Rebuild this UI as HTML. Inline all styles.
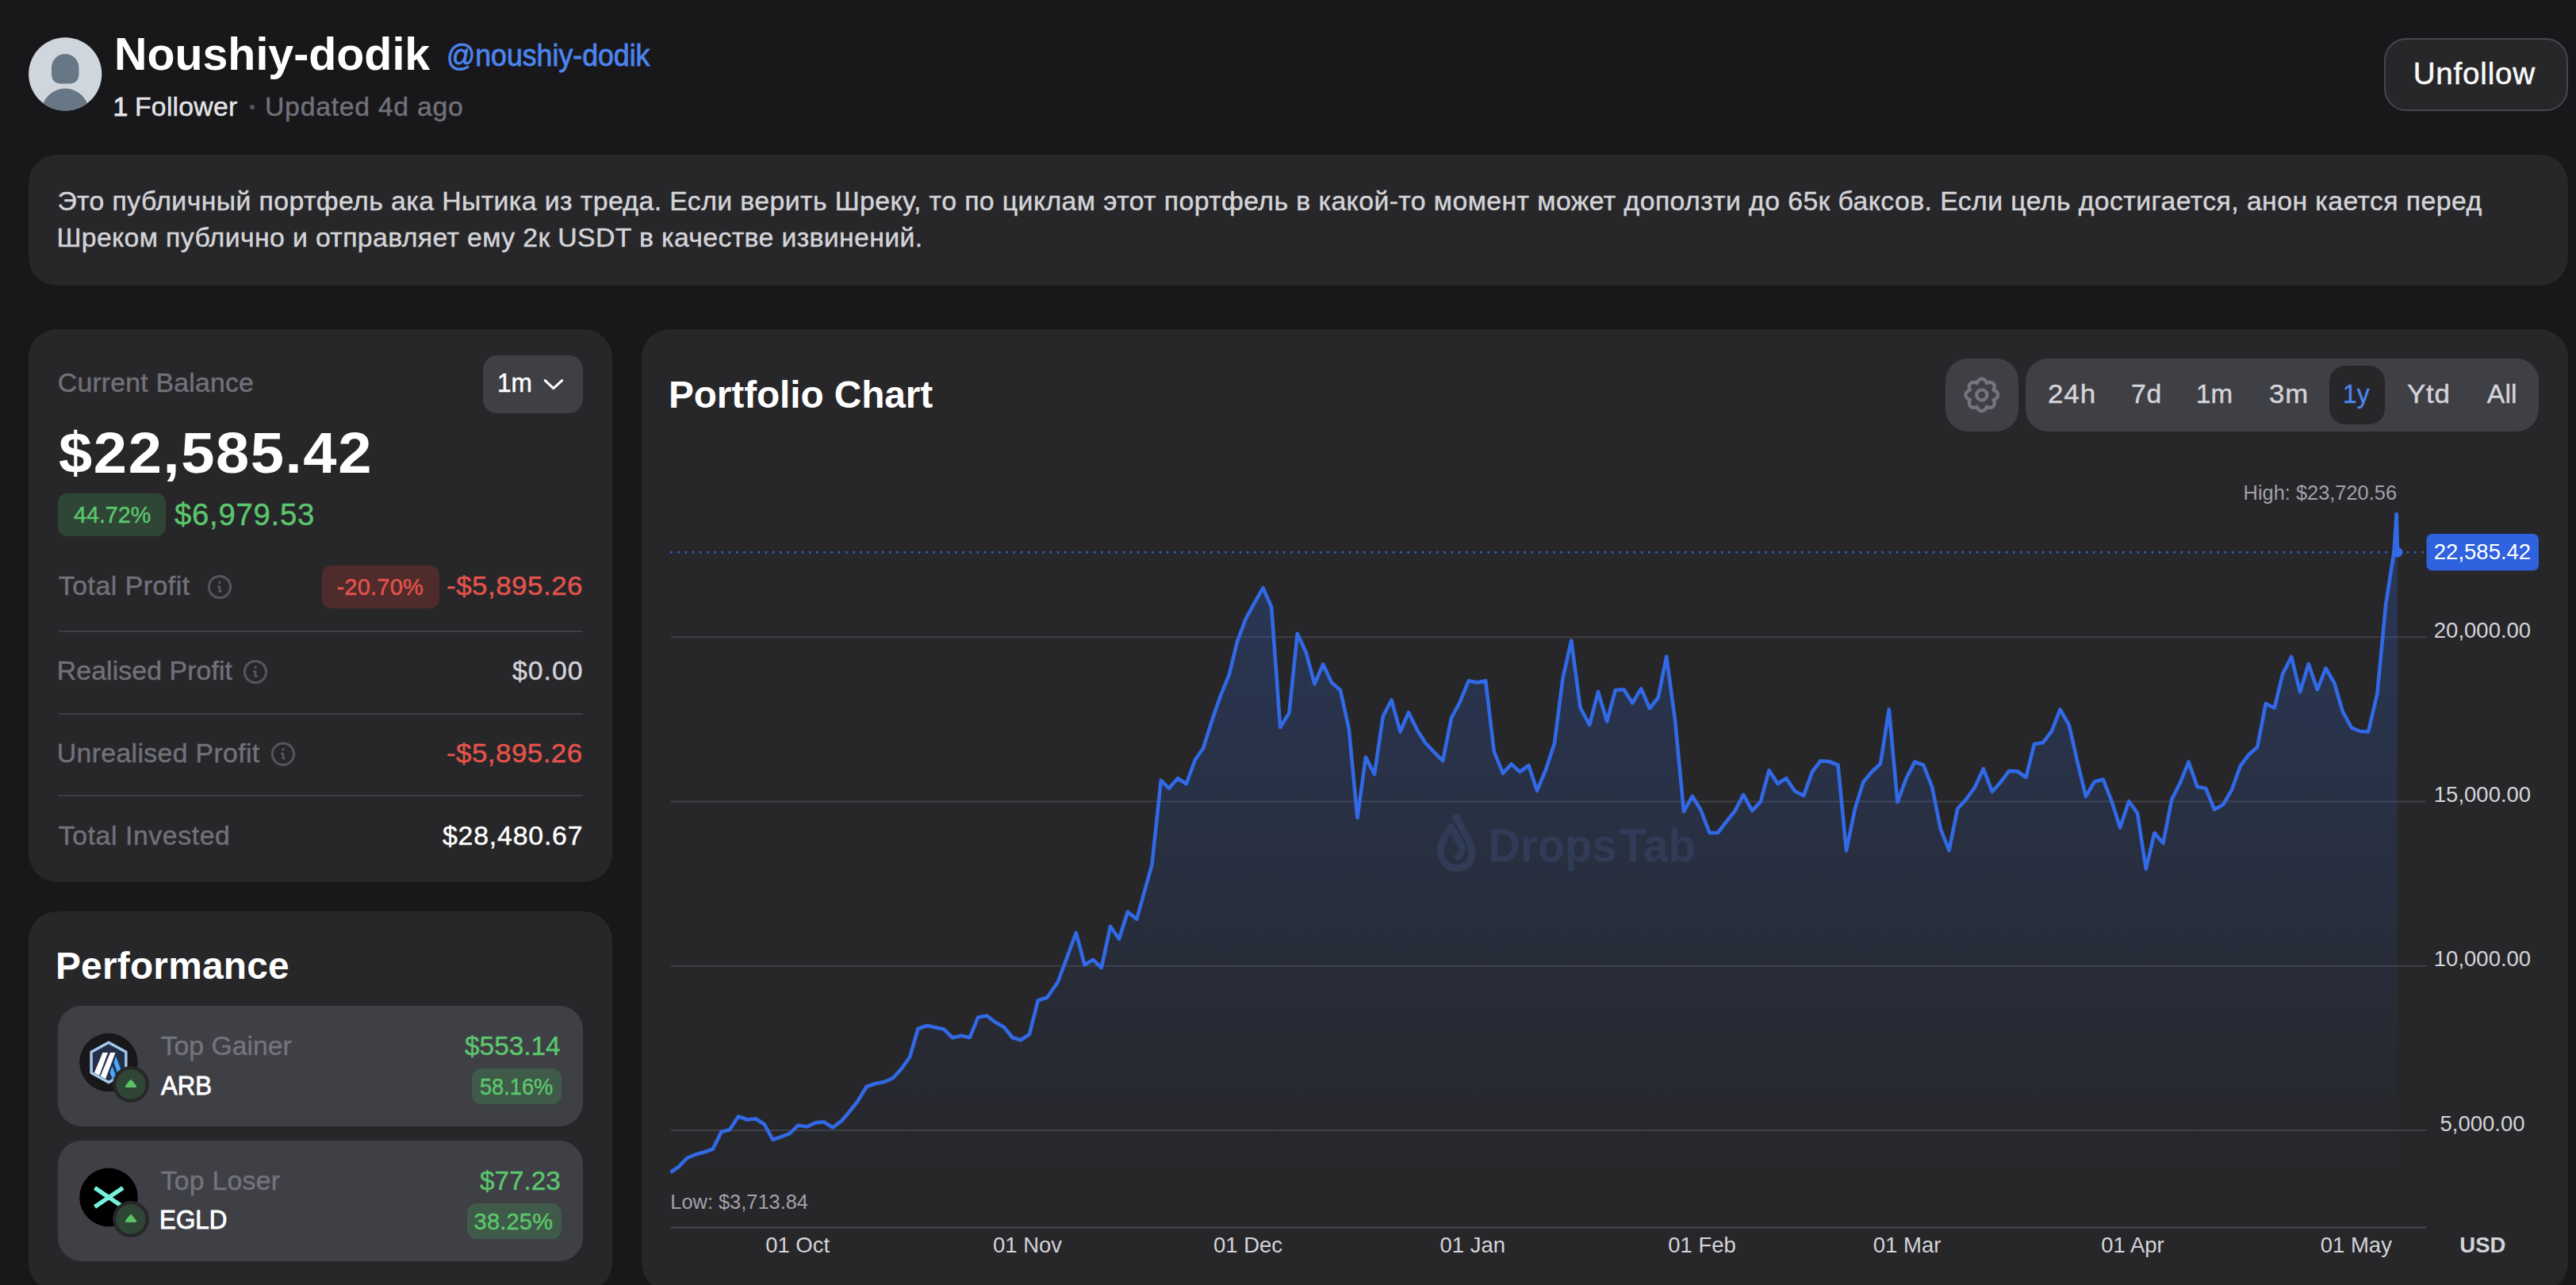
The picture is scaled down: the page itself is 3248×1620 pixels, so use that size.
<!DOCTYPE html>
<html lang="en"><head><meta charset="utf-8"><title>Noushiy-dodik portfolio</title>
<style>
*{box-sizing:border-box;margin:0;padding:0}
html,body{width:3248px;height:1620px;background:#18181b;overflow:hidden}
body{font-family:"Liberation Sans", Arial, sans-serif;}
#app{position:relative;width:3248px;height:1620px;overflow:hidden;background:#18181b}
.abs{position:absolute}
.t{position:absolute;white-space:nowrap;line-height:1;font-weight:400;font-style:normal;display:block;transform-origin:0 50%}
.card{position:absolute;background:#27272a;border-radius:36px}
.inner{position:absolute;background:#3f3f46}
.hr{position:absolute;left:73.5px;width:661.5px;height:2px;background:#3d3d44}
.badge{position:absolute;border-radius:12px}
</style></head>
<body><div id="app">
<header>
<svg class="abs" width="93" height="93" viewBox="0 0 93 93" style="left:36px;top:47.2px"><defs><clipPath id="av"><circle cx="46.2" cy="46.4" r="46.1"/></clipPath></defs>
<circle cx="46.2" cy="46.4" r="46.1" fill="#d0d6dd"/><g clip-path="url(#av)" fill="#687786"><path d="M29,38.1 A17.2,17.2 0 0 1 63.4,38.1 L63.4,46.5 C63.4,54.5 58.5,58.4 51.5,58.4 L40.9,58.4 C33.9,58.4 29,54.5 29,46.5 Z"/><circle cx="46.2" cy="94.6" r="30"/></g></svg>
<h1 class="t" style="left:144.03px;top:38.70px;font-size:58px;color:#ffffff;transform:scaleX(0.9887);font-weight:700;">Noushiy-dodik</h1>
<span class="t" style="left:562.62px;top:51.30px;font-size:38px;color:#4c84ee;transform:scaleX(0.9392);-webkit-text-stroke:0.8px #4c84ee;">@noushiy-dodik</span>
<span class="t" style="left:142.50px;top:117.90px;font-size:33.8px;color:#e4e4e7;-webkit-text-stroke:0.9px #e4e4e7;">1</span>
<span class="t" style="left:170.00px;top:117.90px;font-size:33.8px;color:#e4e4e7;letter-spacing:0.220px;-webkit-text-stroke:0.45px #e4e4e7;">Follower</span>
<i class="abs" style="left:314.6px;top:131.6px;width:6.4px;height:6.4px;border-radius:50%;background:#55555e"></i>
<span class="t" style="left:334.00px;top:117.90px;font-size:33.8px;color:#71717a;letter-spacing:0.712px;-webkit-text-stroke:0.45px #71717a;">Updated 4d ago</span>
<button class="abs" style="left:3006px;top:48px;width:232px;height:92px;border-radius:28px;background:#27272a;border:2.3px solid #46464f;font:inherit;padding:0;text-align:left"><span class="t" style="left:34.70px;top:24.20px;font-size:38.6px;color:#fafafa;letter-spacing:0.788px;-webkit-text-stroke:0.5px #fafafa;">Unfollow</span></button>
</header>
<section>
<div class="card" style="left:36px;top:195px;width:3202px;height:165px"></div>
<p><span class="t" style="left:72.40px;top:237.00px;font-size:33.8px;color:#d4d4d8;letter-spacing:0.408px;-webkit-text-stroke:0.45px #d4d4d8;">Это публичный портфель ака Нытика из треда. Если верить Шреку, то по циклам этот портфель в какой-то момент может доползти до 65к баксов. Если цель достигается, анон кается перед</span>
<span class="t" style="left:71.40px;top:283.10px;font-size:33.8px;color:#d4d4d8;letter-spacing:0.366px;-webkit-text-stroke:0.45px #d4d4d8;">Шреком публично и отправляет ему 2к USDT в качестве извинений.</span></p>
</section>
<aside>
<div class="card" style="left:36px;top:415px;width:736px;height:696.5px"></div>
<div class="inner" style="left:609px;top:448px;width:126px;height:73px;border-radius:18px"></div>
<div class="badge" style="left:73px;top:622px;width:135.6px;height:53.7px;background:#2f4636"></div>
<div class="badge" style="left:406px;top:713px;width:148px;height:54px;background:#4f2b2b"></div>
<div class="hr" style="top:794.6px"></div><div class="hr" style="top:898.5px"></div><div class="hr" style="top:1001.9px"></div>
<span class="t" style="left:72.80px;top:466.40px;font-size:33.8px;color:#71717a;letter-spacing:0.198px;-webkit-text-stroke:0.45px #71717a;">Current Balance</span>
<span class="t" style="left:626.53px;top:466.40px;font-size:33.8px;color:#ffffff;transform:scaleX(0.9370);-webkit-text-stroke:0.5px #ffffff;">1m</span>
<strong class="t" style="left:73.80px;top:534.90px;font-size:72.4px;color:#ffffff;letter-spacing:1.523px;transform:scaleX(1.0488);font-weight:700;">$22,585.42</strong>
<span class="t" style="left:92.50px;top:634.70px;font-size:29px;color:#5cc66c;transform:scaleX(0.9890);-webkit-text-stroke:0.45px #5cc66c;">44.72%</span>
<span class="t" style="left:220.00px;top:629.65px;font-size:38.3px;color:#5cc66c;letter-spacing:0.741px;-webkit-text-stroke:0.45px #5cc66c;">$6,979.53</span>
<span class="t" style="left:73.80px;top:722.40px;font-size:33.8px;color:#71717a;letter-spacing:0.521px;-webkit-text-stroke:0.45px #71717a;">Total Profit</span>
<span class="t" style="left:424.50px;top:725.80px;font-size:29px;color:#e5534b;letter-spacing:0.212px;-webkit-text-stroke:0.45px #e5534b;">-20.70%</span>
<span class="t" style="left:562.97px;top:722.40px;font-size:33.8px;color:#e5534b;letter-spacing:0.478px;transform:scaleX(1.0340);-webkit-text-stroke:0.45px #e5534b;">-$5,895.26</span>
<span class="t" style="left:71.80px;top:829.20px;font-size:33.8px;color:#71717a;letter-spacing:0.094px;-webkit-text-stroke:0.45px #71717a;">Realised Profit</span>
<span class="t" style="left:646.00px;top:829.20px;font-size:33.8px;color:#d4d4d8;letter-spacing:0.980px;-webkit-text-stroke:0.45px #d4d4d8;">$0.00</span>
<span class="t" style="left:71.80px;top:932.90px;font-size:33.8px;color:#71717a;letter-spacing:0.348px;-webkit-text-stroke:0.45px #71717a;">Unrealised Profit</span>
<span class="t" style="left:563.37px;top:932.90px;font-size:33.8px;color:#e5534b;letter-spacing:0.459px;transform:scaleX(1.0327);-webkit-text-stroke:0.45px #e5534b;">-$5,895.26</span>
<span class="t" style="left:73.80px;top:1036.80px;font-size:33.8px;color:#71717a;letter-spacing:0.574px;-webkit-text-stroke:0.45px #71717a;">Total Invested</span>
<span class="t" style="left:558.00px;top:1036.80px;font-size:33.8px;color:#ffffff;letter-spacing:0.816px;-webkit-text-stroke:0.45px #ffffff;">$28,480.67</span>
<div class="card" style="left:36px;top:1149px;width:736px;height:479px"></div>
<div class="inner" style="left:73px;top:1268px;width:661.6px;height:151.7px;border-radius:30px"></div>
<div class="inner" style="left:73px;top:1438px;width:661.6px;height:152px;border-radius:30px"></div>
<div class="badge" style="left:595px;top:1347px;width:113px;height:44.6px;background:#3f5a48;border-radius:12px"></div>
<div class="badge" style="left:589px;top:1517px;width:119px;height:44.6px;background:#3f5a48;border-radius:12px"></div>
<svg class="abs" width="3248" height="1620" viewBox="0 0 3248 1620" style="left:0;top:0">
<circle cx="137" cy="1339.4" r="36.8" fill="#18181b"/>
<path d="M137,1314.2 L158.9,1326.3 L158.9,1352.5 L137,1364.6 L115.1,1352.5 L115.1,1326.3 Z" fill="#243049" stroke="#a5caee" stroke-width="3.4" stroke-linejoin="round"/>
<clipPath id="hx"><path d="M137,1316.5 L157,1327.5 L157,1351.3 L137,1362.3 L117,1351.3 L117,1327.5 Z"/></clipPath>
<g clip-path="url(#hx)"><path d="M129.5,1327 L136,1327 L124.5,1358 L118,1354.5 Z" fill="#fff"/><path d="M139,1327 L145.5,1327 L132,1363 L125.5,1359.5 Z" fill="#fff"/>
<path d="M146,1331.5 L154,1352 L149,1355 L143.5,1340 Z M141.5,1344 L147,1358 L142,1361 L138.5,1352 Z" fill="#4aa8f8"/></g>
<circle cx="165" cy="1367" r="22.9" fill="#27272a"/><circle cx="165" cy="1367" r="18.7" fill="#2f4636"/><path d="M159.5,1369.4 L165,1362.8 L170.5,1369.4 Z" fill="#5bc266" stroke="#5bc266" stroke-width="3.2" stroke-linejoin="round"/>
<circle cx="137" cy="1509.4" r="36.8" fill="#000"/>
<path d="M119.5,1497.6 L155,1521.4 M155,1497.6 L119.5,1521.4" stroke="#76f2dc" stroke-width="5.4" fill="none"/>
<circle cx="165" cy="1537" r="22.9" fill="#27272a"/><circle cx="165" cy="1537" r="18.7" fill="#2f4636"/><path d="M159.5,1539.4 L165,1532.8 L170.5,1539.4 Z" fill="#5bc266" stroke="#5bc266" stroke-width="3.2" stroke-linejoin="round"/>
</svg>
<h2 class="t" style="left:70.00px;top:1193.90px;font-size:47.8px;color:#ffffff;letter-spacing:0.236px;font-weight:700;">Performance</h2>
<span class="t" style="left:202.70px;top:1302.10px;font-size:33.8px;color:#73737c;letter-spacing:-0.030px;-webkit-text-stroke:0.45px #73737c;">Top Gainer</span>
<span class="t" style="left:202.70px;top:1351.70px;font-size:33.8px;color:#ffffff;transform:scaleX(0.9227);-webkit-text-stroke:0.9px #ffffff;">ARB</span>
<span class="t" style="left:585.60px;top:1302.10px;font-size:33.8px;color:#5cc66c;transform:scaleX(0.9879);-webkit-text-stroke:0.45px #5cc66c;">$553.14</span>
<span class="t" style="left:604.56px;top:1356.10px;font-size:29px;color:#5cc66c;transform:scaleX(0.9371);-webkit-text-stroke:0.45px #5cc66c;">58.16%</span>
<span class="t" style="left:202.70px;top:1472.40px;font-size:33.8px;color:#73737c;letter-spacing:0.229px;-webkit-text-stroke:0.45px #73737c;">Top Loser</span>
<span class="t" style="left:200.84px;top:1521.40px;font-size:33.8px;color:#ffffff;transform:scaleX(0.9286);-webkit-text-stroke:0.9px #ffffff;">EGLD</span>
<span class="t" style="left:604.50px;top:1472.40px;font-size:33.8px;color:#5cc66c;transform:scaleX(0.9846);-webkit-text-stroke:0.45px #5cc66c;">$77.23</span>
<span class="t" style="left:597.60px;top:1525.80px;font-size:29px;color:#5cc66c;letter-spacing:0.206px;-webkit-text-stroke:0.45px #5cc66c;">38.25%</span>
</aside>
<main>
<div class="card" style="left:809px;top:415px;width:2429px;height:1213px"></div>
<div class="inner" style="left:2453px;top:452px;width:92px;height:92px;border-radius:28px"></div>
<div class="inner" style="left:2554px;top:452px;width:647px;height:92px;border-radius:28px"></div>
<div class="abs" style="left:2937px;top:461px;width:69.7px;height:73.6px;border-radius:20px;background:#27272a"></div>
<svg class="abs" width="3248" height="1620" viewBox="0 0 3248 1620" style="left:0;top:0" font-family='"Liberation Sans", Arial, sans-serif'>
<defs><linearGradient id="ag" x1="0" y1="640" x2="0" y2="1475" gradientUnits="userSpaceOnUse"><stop offset="0" stop-color="#2f6ae8" stop-opacity="0.25"/><stop offset="1" stop-color="#2f6ae8" stop-opacity="0.0"/></linearGradient></defs>
<line x1="846" y1="803.2" x2="3059.5" y2="803.2" stroke="#3f3f46" stroke-width="2"/><line x1="846" y1="1010.4" x2="3059.5" y2="1010.4" stroke="#3f3f46" stroke-width="2"/><line x1="846" y1="1217.7" x2="3059.5" y2="1217.7" stroke="#3f3f46" stroke-width="2"/><line x1="846" y1="1425" x2="3059.5" y2="1425" stroke="#3f3f46" stroke-width="2"/>
<line x1="846" y1="1547.5" x2="3059.5" y2="1547.5" stroke="#46464e" stroke-width="2"/>
<path d="M845.5,1478.0 L855.5,1471.2 L866.2,1460.0 L877.0,1455.5 L888.0,1452.5 L898.8,1448.8 L909.5,1427.0 L920.0,1424.2 L931.0,1407.5 L942.0,1411.5 L953.0,1410.5 L963.8,1417.5 L974.5,1437.0 L985.5,1432.8 L995.5,1429.2 L1006.2,1418.8 L1017.5,1420.5 L1028.5,1415.2 L1038.8,1414.5 L1050.0,1421.5 L1061.0,1413.2 L1071.2,1401.2 L1081.2,1388.8 L1092.5,1370.0 L1104.2,1366.0 L1115.0,1364.0 L1125.8,1359.2 L1136.5,1347.5 L1147.2,1332.5 L1157.5,1297.0 L1168.8,1293.0 L1179.2,1295.2 L1190.0,1297.5 L1200.8,1308.2 L1212.0,1305.8 L1222.8,1308.0 L1233.2,1282.5 L1244.2,1280.5 L1255.0,1288.8 L1266.0,1295.0 L1276.5,1308.0 L1287.2,1311.2 L1298.0,1303.8 L1308.8,1261.2 L1320.5,1257.5 L1333.8,1238.0 L1345.0,1208.0 L1356.8,1175.8 L1367.5,1216.2 L1378.2,1210.0 L1388.8,1220.0 L1400.0,1168.0 L1411.0,1183.8 L1421.8,1149.5 L1433.2,1158.8 L1443.0,1124.0 L1452.5,1090.0 L1463.8,983.8 L1474.0,993.8 L1485.0,981.2 L1495.8,988.2 L1506.8,958.0 L1517.0,943.5 L1528.0,908.8 L1538.8,877.5 L1550.0,850.0 L1560.0,808.8 L1570.8,780.0 L1581.5,760.5 L1592.5,741.2 L1603.2,765.5 L1614.2,917.0 L1625.5,898.8 L1635.8,798.8 L1646.8,822.5 L1657.5,862.5 L1668.2,837.5 L1679.0,860.5 L1690.0,870.0 L1700.8,918.8 L1711.5,1031.0 L1722.0,954.5 L1733.0,976.2 L1743.8,903.0 L1754.5,882.5 L1765.5,922.5 L1776.0,898.2 L1786.8,920.0 L1797.5,937.0 L1808.2,948.2 L1819.2,959.2 L1830.0,905.0 L1840.8,885.0 L1851.8,858.2 L1862.5,860.5 L1873.2,858.2 L1883.8,947.5 L1895.0,975.0 L1905.5,963.2 L1916.2,973.0 L1927.5,965.0 L1938.0,996.8 L1949.2,970.0 L1960.0,937.0 L1970.5,855.0 L1981.2,807.5 L1992.5,892.0 L2004.2,913.8 L2015.0,872.0 L2026.2,909.5 L2036.8,870.0 L2047.5,869.2 L2058.2,886.2 L2069.2,868.2 L2080.0,893.2 L2090.8,879.5 L2101.2,827.5 L2112.0,907.5 L2123.0,1023.0 L2133.8,1003.8 L2144.5,1021.2 L2155.5,1050.0 L2165.8,1050.0 L2177.0,1035.5 L2187.5,1022.5 L2198.2,1001.8 L2209.2,1022.0 L2220.0,1010.5 L2230.5,971.2 L2241.5,988.0 L2252.2,981.2 L2263.2,997.5 L2274.2,1003.0 L2285.0,973.0 L2295.5,959.2 L2306.2,960.0 L2317.5,964.5 L2328.0,1072.5 L2338.8,1020.0 L2349.2,986.2 L2360.0,973.0 L2371.0,963.0 L2381.8,894.2 L2392.5,1011.2 L2403.5,981.2 L2414.2,960.5 L2425.2,964.5 L2436.2,992.5 L2446.8,1045.0 L2457.5,1072.0 L2468.2,1019.5 L2478.8,1008.0 L2490.0,992.5 L2500.8,969.2 L2511.8,998.0 L2522.5,986.2 L2533.0,972.0 L2543.8,972.5 L2554.5,980.0 L2565.0,938.0 L2576.0,936.2 L2586.8,922.0 L2597.5,894.5 L2608.8,913.8 L2619.5,961.2 L2630.0,1004.2 L2640.8,985.5 L2651.8,982.5 L2662.5,1010.0 L2673.2,1043.5 L2684.2,1010.0 L2695.0,1025.0 L2705.8,1095.5 L2716.5,1050.0 L2727.5,1063.0 L2738.2,1008.0 L2749.2,986.2 L2759.5,960.5 L2770.5,992.0 L2781.2,993.8 L2792.0,1020.5 L2803.0,1014.5 L2813.8,996.2 L2824.5,966.2 L2835.5,951.2 L2846.2,942.0 L2856.8,887.0 L2867.8,892.5 L2878.2,849.5 L2889.2,828.0 L2900.0,872.5 L2910.8,837.0 L2921.8,869.5 L2932.5,842.5 L2943.2,860.8 L2953.8,897.0 L2965.0,917.5 L2975.8,922.0 L2986.2,922.5 L2997.5,873.8 L3008.3,761.0 L3018.5,696.0 L3021.7,648.0 L3023.0,696.0 L3022.5,1547 L845.5,1547 Z" fill="url(#ag)"/>
<g fill="#3d4d75" opacity="0.42" font-weight="700">
<path transform="translate(1837 1062.3) scale(1.04) translate(-1837 -1061)" d="M1836,1030 L1850,1056 C1858,1072 1858,1090 1838,1092 C1818,1092 1812,1072 1822,1054 L1830,1042 L1842,1064 C1845,1070 1842,1075 1838,1078" fill="none" stroke="#3d4d75" stroke-width="8.5" stroke-linecap="round" stroke-linejoin="round"/>
<text x="1876.5" y="1085.7" font-size="59.5" textLength="162" lengthAdjust="spacingAndGlyphs">Drops</text><text x="2041.5" y="1085.7" font-size="59.5" textLength="96.5" lengthAdjust="spacingAndGlyphs">Tab</text>
</g>
<line x1="845.2" y1="696.2" x2="3059" y2="696.2" stroke="#3064dc" stroke-width="2.5" stroke-dasharray="2.4 6.8"/>
<path d="M845.5,1478.0 L855.5,1471.2 L866.2,1460.0 L877.0,1455.5 L888.0,1452.5 L898.8,1448.8 L909.5,1427.0 L920.0,1424.2 L931.0,1407.5 L942.0,1411.5 L953.0,1410.5 L963.8,1417.5 L974.5,1437.0 L985.5,1432.8 L995.5,1429.2 L1006.2,1418.8 L1017.5,1420.5 L1028.5,1415.2 L1038.8,1414.5 L1050.0,1421.5 L1061.0,1413.2 L1071.2,1401.2 L1081.2,1388.8 L1092.5,1370.0 L1104.2,1366.0 L1115.0,1364.0 L1125.8,1359.2 L1136.5,1347.5 L1147.2,1332.5 L1157.5,1297.0 L1168.8,1293.0 L1179.2,1295.2 L1190.0,1297.5 L1200.8,1308.2 L1212.0,1305.8 L1222.8,1308.0 L1233.2,1282.5 L1244.2,1280.5 L1255.0,1288.8 L1266.0,1295.0 L1276.5,1308.0 L1287.2,1311.2 L1298.0,1303.8 L1308.8,1261.2 L1320.5,1257.5 L1333.8,1238.0 L1345.0,1208.0 L1356.8,1175.8 L1367.5,1216.2 L1378.2,1210.0 L1388.8,1220.0 L1400.0,1168.0 L1411.0,1183.8 L1421.8,1149.5 L1433.2,1158.8 L1443.0,1124.0 L1452.5,1090.0 L1463.8,983.8 L1474.0,993.8 L1485.0,981.2 L1495.8,988.2 L1506.8,958.0 L1517.0,943.5 L1528.0,908.8 L1538.8,877.5 L1550.0,850.0 L1560.0,808.8 L1570.8,780.0 L1581.5,760.5 L1592.5,741.2 L1603.2,765.5 L1614.2,917.0 L1625.5,898.8 L1635.8,798.8 L1646.8,822.5 L1657.5,862.5 L1668.2,837.5 L1679.0,860.5 L1690.0,870.0 L1700.8,918.8 L1711.5,1031.0 L1722.0,954.5 L1733.0,976.2 L1743.8,903.0 L1754.5,882.5 L1765.5,922.5 L1776.0,898.2 L1786.8,920.0 L1797.5,937.0 L1808.2,948.2 L1819.2,959.2 L1830.0,905.0 L1840.8,885.0 L1851.8,858.2 L1862.5,860.5 L1873.2,858.2 L1883.8,947.5 L1895.0,975.0 L1905.5,963.2 L1916.2,973.0 L1927.5,965.0 L1938.0,996.8 L1949.2,970.0 L1960.0,937.0 L1970.5,855.0 L1981.2,807.5 L1992.5,892.0 L2004.2,913.8 L2015.0,872.0 L2026.2,909.5 L2036.8,870.0 L2047.5,869.2 L2058.2,886.2 L2069.2,868.2 L2080.0,893.2 L2090.8,879.5 L2101.2,827.5 L2112.0,907.5 L2123.0,1023.0 L2133.8,1003.8 L2144.5,1021.2 L2155.5,1050.0 L2165.8,1050.0 L2177.0,1035.5 L2187.5,1022.5 L2198.2,1001.8 L2209.2,1022.0 L2220.0,1010.5 L2230.5,971.2 L2241.5,988.0 L2252.2,981.2 L2263.2,997.5 L2274.2,1003.0 L2285.0,973.0 L2295.5,959.2 L2306.2,960.0 L2317.5,964.5 L2328.0,1072.5 L2338.8,1020.0 L2349.2,986.2 L2360.0,973.0 L2371.0,963.0 L2381.8,894.2 L2392.5,1011.2 L2403.5,981.2 L2414.2,960.5 L2425.2,964.5 L2436.2,992.5 L2446.8,1045.0 L2457.5,1072.0 L2468.2,1019.5 L2478.8,1008.0 L2490.0,992.5 L2500.8,969.2 L2511.8,998.0 L2522.5,986.2 L2533.0,972.0 L2543.8,972.5 L2554.5,980.0 L2565.0,938.0 L2576.0,936.2 L2586.8,922.0 L2597.5,894.5 L2608.8,913.8 L2619.5,961.2 L2630.0,1004.2 L2640.8,985.5 L2651.8,982.5 L2662.5,1010.0 L2673.2,1043.5 L2684.2,1010.0 L2695.0,1025.0 L2705.8,1095.5 L2716.5,1050.0 L2727.5,1063.0 L2738.2,1008.0 L2749.2,986.2 L2759.5,960.5 L2770.5,992.0 L2781.2,993.8 L2792.0,1020.5 L2803.0,1014.5 L2813.8,996.2 L2824.5,966.2 L2835.5,951.2 L2846.2,942.0 L2856.8,887.0 L2867.8,892.5 L2878.2,849.5 L2889.2,828.0 L2900.0,872.5 L2910.8,837.0 L2921.8,869.5 L2932.5,842.5 L2943.2,860.8 L2953.8,897.0 L2965.0,917.5 L2975.8,922.0 L2986.2,922.5 L2997.5,873.8 L3008.3,761.0 L3018.5,696.0 L3021.7,648.0 L3023.0,696.0" fill="none" stroke="#3169e6" stroke-width="4.6" stroke-linejoin="round" stroke-linecap="butt"/>
<circle cx="3022.8" cy="696.2" r="6.6" fill="#3169e6"/>
<rect x="3059.5" y="673" width="141.5" height="46.2" rx="7" fill="#2f62de"/>
<text x="3130" y="705" font-size="27.5" fill="#ffffff" text-anchor="middle">22,585.42</text>
<text x="3022" y="629.7" font-size="25.4" fill="#a1a1aa" text-anchor="end">High: $23,720.56</text>
<text x="845.3" y="1523.5" font-size="25.4" fill="#a1a1aa" text-anchor="start">Low: $3,713.84</text>
<text x="3130" y="803.8000000000001" font-size="27.5" fill="#d4d4d8" text-anchor="middle">20,000.00</text><text x="3130" y="1011.0" font-size="27.5" fill="#d4d4d8" text-anchor="middle">15,000.00</text><text x="3130" y="1218.3" font-size="27.5" fill="#d4d4d8" text-anchor="middle">10,000.00</text><text x="3130" y="1425.6" font-size="27.5" fill="#d4d4d8" text-anchor="middle">5,000.00</text>
<text x="1005.65" y="1579" font-size="27.5" fill="#d4d4d8" text-anchor="middle">01 Oct</text><text x="1295.5500000000002" y="1579" font-size="27.5" fill="#d4d4d8" text-anchor="middle">01 Nov</text><text x="1573.5" y="1579" font-size="27.5" fill="#d4d4d8" text-anchor="middle">01 Dec</text><text x="1856.7" y="1579" font-size="27.5" fill="#d4d4d8" text-anchor="middle">01 Jan</text><text x="2146.0" y="1579" font-size="27.5" fill="#d4d4d8" text-anchor="middle">01 Feb</text><text x="2404.55" y="1579" font-size="27.5" fill="#d4d4d8" text-anchor="middle">01 Mar</text><text x="2689.0" y="1579" font-size="27.5" fill="#d4d4d8" text-anchor="middle">01 Apr</text><text x="2970.8" y="1579" font-size="27.5" fill="#d4d4d8" text-anchor="middle">01 May</text>
<text x="3130.3" y="1579" font-size="27.5" fill="#d4d4d8" text-anchor="middle" font-weight="700">USD</text>
</svg>
<svg class="abs" width="3248" height="1620" viewBox="0 0 3248 1620" style="left:0;top:0">
<path d="M2498.80,477.60 L2499.33,477.63 L2499.86,477.71 L2500.38,477.85 L2500.89,478.05 L2501.38,478.29 L2501.86,478.59 L2502.32,478.93 L2502.75,479.32 L2503.16,479.75 L2503.54,480.22 L2503.89,480.72 L2504.21,481.26 L2504.49,481.83 L2504.74,482.44 L2504.92,483.12 L2505.54,482.77 L2506.14,482.51 L2506.74,482.31 L2507.35,482.16 L2507.95,482.05 L2508.55,481.99 L2509.15,481.97 L2509.73,482.00 L2510.29,482.08 L2510.84,482.21 L2511.36,482.39 L2511.86,482.61 L2512.33,482.88 L2512.76,483.19 L2513.15,483.55 L2513.51,483.94 L2513.82,484.37 L2514.09,484.84 L2514.31,485.34 L2514.49,485.86 L2514.62,486.41 L2514.70,486.97 L2514.73,487.55 L2514.71,488.15 L2514.65,488.75 L2514.54,489.35 L2514.39,489.96 L2514.19,490.56 L2513.93,491.16 L2513.58,491.78 L2514.26,491.96 L2514.87,492.21 L2515.44,492.49 L2515.98,492.81 L2516.48,493.16 L2516.95,493.54 L2517.38,493.95 L2517.77,494.38 L2518.11,494.84 L2518.41,495.32 L2518.65,495.81 L2518.85,496.32 L2518.99,496.84 L2519.07,497.37 L2519.10,497.90 L2519.07,498.43 L2518.99,498.96 L2518.85,499.48 L2518.65,499.99 L2518.41,500.48 L2518.11,500.96 L2517.77,501.42 L2517.38,501.85 L2516.95,502.26 L2516.48,502.64 L2515.98,502.99 L2515.44,503.31 L2514.87,503.59 L2514.26,503.84 L2513.58,504.02 L2513.93,504.64 L2514.19,505.24 L2514.39,505.84 L2514.54,506.45 L2514.65,507.05 L2514.71,507.65 L2514.73,508.25 L2514.70,508.83 L2514.62,509.39 L2514.49,509.94 L2514.31,510.46 L2514.09,510.96 L2513.82,511.43 L2513.51,511.86 L2513.15,512.25 L2512.76,512.61 L2512.33,512.92 L2511.86,513.19 L2511.36,513.41 L2510.84,513.59 L2510.29,513.72 L2509.73,513.80 L2509.15,513.83 L2508.55,513.81 L2507.95,513.75 L2507.35,513.64 L2506.74,513.49 L2506.14,513.29 L2505.54,513.03 L2504.92,512.68 L2504.74,513.36 L2504.49,513.97 L2504.21,514.54 L2503.89,515.08 L2503.54,515.58 L2503.16,516.05 L2502.75,516.48 L2502.32,516.87 L2501.86,517.21 L2501.38,517.51 L2500.89,517.75 L2500.38,517.95 L2499.86,518.09 L2499.33,518.17 L2498.80,518.20 L2498.27,518.17 L2497.74,518.09 L2497.22,517.95 L2496.71,517.75 L2496.22,517.51 L2495.74,517.21 L2495.28,516.87 L2494.85,516.48 L2494.44,516.05 L2494.06,515.58 L2493.71,515.08 L2493.39,514.54 L2493.11,513.97 L2492.86,513.36 L2492.68,512.68 L2492.06,513.03 L2491.46,513.29 L2490.86,513.49 L2490.25,513.64 L2489.65,513.75 L2489.05,513.81 L2488.45,513.83 L2487.87,513.80 L2487.31,513.72 L2486.76,513.59 L2486.24,513.41 L2485.74,513.19 L2485.27,512.92 L2484.84,512.61 L2484.45,512.25 L2484.09,511.86 L2483.78,511.43 L2483.51,510.96 L2483.29,510.46 L2483.11,509.94 L2482.98,509.39 L2482.90,508.83 L2482.87,508.25 L2482.89,507.65 L2482.95,507.05 L2483.06,506.45 L2483.21,505.84 L2483.41,505.24 L2483.67,504.64 L2484.02,504.02 L2483.34,503.84 L2482.73,503.59 L2482.16,503.31 L2481.62,502.99 L2481.12,502.64 L2480.65,502.26 L2480.22,501.85 L2479.83,501.42 L2479.49,500.96 L2479.19,500.48 L2478.95,499.99 L2478.75,499.48 L2478.61,498.96 L2478.53,498.43 L2478.50,497.90 L2478.53,497.37 L2478.61,496.84 L2478.75,496.32 L2478.95,495.81 L2479.19,495.32 L2479.49,494.84 L2479.83,494.38 L2480.22,493.95 L2480.65,493.54 L2481.12,493.16 L2481.62,492.81 L2482.16,492.49 L2482.73,492.21 L2483.34,491.96 L2484.02,491.78 L2483.67,491.16 L2483.41,490.56 L2483.21,489.96 L2483.06,489.35 L2482.95,488.75 L2482.89,488.15 L2482.87,487.55 L2482.90,486.97 L2482.98,486.41 L2483.11,485.86 L2483.29,485.34 L2483.51,484.84 L2483.78,484.37 L2484.09,483.94 L2484.45,483.55 L2484.84,483.19 L2485.27,482.88 L2485.74,482.61 L2486.24,482.39 L2486.76,482.21 L2487.31,482.08 L2487.87,482.00 L2488.45,481.97 L2489.05,481.99 L2489.65,482.05 L2490.25,482.16 L2490.86,482.31 L2491.46,482.51 L2492.06,482.77 L2492.68,483.12 L2492.86,482.44 L2493.11,481.83 L2493.39,481.26 L2493.71,480.72 L2494.06,480.22 L2494.44,479.75 L2494.85,479.32 L2495.28,478.93 L2495.74,478.59 L2496.22,478.29 L2496.71,478.05 L2497.22,477.85 L2497.74,477.71 L2498.27,477.63 Z" fill="none" stroke="#74747d" stroke-width="4.3" stroke-linejoin="round"/>
<circle cx="2498.8" cy="497.9" r="6.6" fill="none" stroke="#74747d" stroke-width="4.3"/>
<path d="M687.2,479.7 L697.9,489.6 L708.7,479.7" fill="none" stroke="#ffffff" stroke-width="3" stroke-linecap="round" stroke-linejoin="round"/>
<g fill="none" stroke="#55555e" stroke-width="3"><circle cx="277" cy="740" r="13.6"/><path d="M275.3,739.6 L277,739.6 L277,745.6 L278.6,745.6" stroke-width="2.7" stroke-linecap="round" stroke-linejoin="round"/></g><circle cx="277" cy="734.2" r="1.7" fill="#55555e"/><g fill="none" stroke="#55555e" stroke-width="3"><circle cx="322" cy="847" r="13.6"/><path d="M320.3,846.6 L322,846.6 L322,852.6 L323.6,852.6" stroke-width="2.7" stroke-linecap="round" stroke-linejoin="round"/></g><circle cx="322" cy="841.2" r="1.7" fill="#55555e"/><g fill="none" stroke="#55555e" stroke-width="3"><circle cx="357" cy="950.6" r="13.6"/><path d="M355.3,950.2 L357,950.2 L357,956.2 L358.6,956.2" stroke-width="2.7" stroke-linecap="round" stroke-linejoin="round"/></g><circle cx="357" cy="944.8000000000001" r="1.7" fill="#55555e"/>
</svg>
<h2 class="t" style="left:842.90px;top:473.50px;font-size:47.8px;color:#ffffff;letter-spacing:-0.088px;font-weight:700;">Portfolio Chart</h2>
<span class="t" style="left:2581.66px;top:480.30px;font-size:33.8px;color:#d4d4d8;letter-spacing:0.804px;transform:scaleX(1.0380);-webkit-text-stroke:0.45px #d4d4d8;">24h</span>
<span class="t" style="left:2687.00px;top:480.30px;font-size:33.8px;color:#d4d4d8;letter-spacing:0.804px;-webkit-text-stroke:0.45px #d4d4d8;">7d</span>
<span class="t" style="left:2769.04px;top:480.30px;font-size:33.8px;color:#d4d4d8;transform:scaleX(0.9814);-webkit-text-stroke:0.45px #d4d4d8;">1m</span>
<span class="t" style="left:2860.97px;top:480.30px;font-size:33.8px;color:#d4d4d8;letter-spacing:0.965px;transform:scaleX(1.0277);-webkit-text-stroke:0.45px #d4d4d8;">3m</span>
<span class="t" style="left:2953.81px;top:480.30px;font-size:33.8px;color:#4c84ee;transform:scaleX(0.9439);-webkit-text-stroke:0.45px #4c84ee;">1y</span>
<span class="t" style="left:3035.00px;top:480.30px;font-size:33.8px;color:#d4d4d8;letter-spacing:0.667px;transform:scaleX(1.0345);-webkit-text-stroke:0.45px #d4d4d8;">Ytd</span>
<span class="t" style="left:3135.80px;top:480.30px;font-size:33.8px;color:#d4d4d8;letter-spacing:0.075px;-webkit-text-stroke:0.45px #d4d4d8;">All</span>
</main>
</div></body></html>
